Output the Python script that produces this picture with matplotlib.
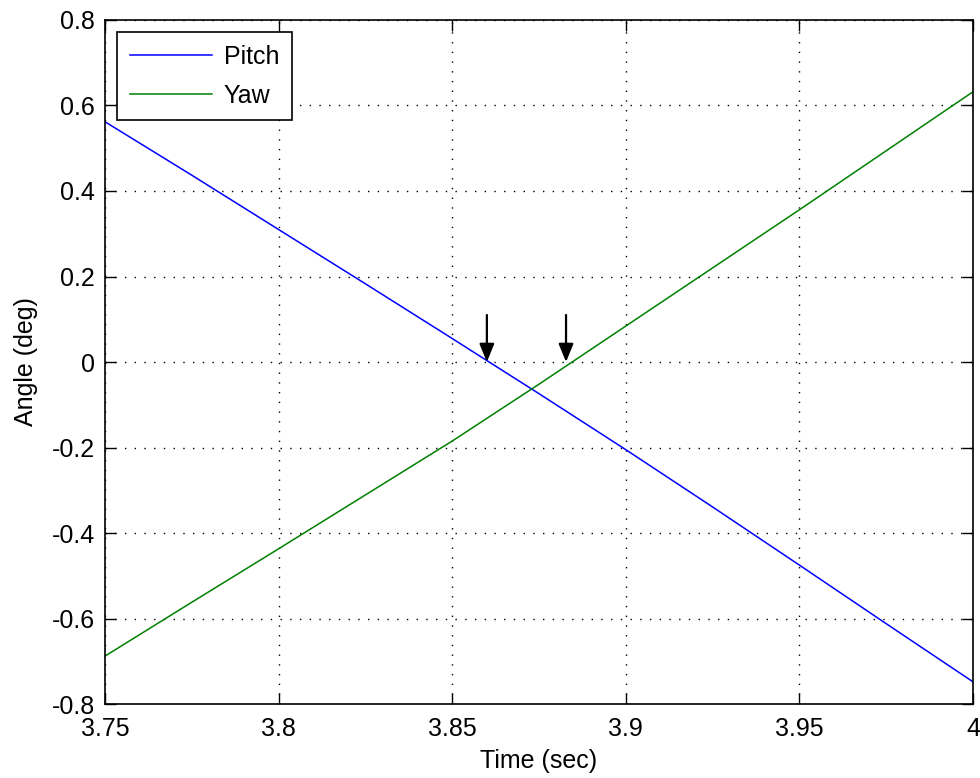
import matplotlib.pyplot as plt
import numpy as np

# sampled attitude angles near the zero crossing
time_s = [3.75, 3.775, 3.80, 3.825, 3.85, 3.875, 3.90, 3.925, 3.95, 3.975, 4.00]
pitch_deg = [0.562, 0.437, 0.310, 0.183, 0.055, -0.074, -0.205, -0.339, -0.475, -0.612, -0.748]
yaw_deg = [-0.688, -0.562, -0.437, -0.311, -0.185, -0.052, 0.084, 0.220, 0.356, 0.494, 0.632]

# zero crossings marked with arrows
crossings = [3.860, 3.8828]

xticks = [3.75, 3.8, 3.85, 3.9, 3.95, 4.0]
xtick_labels = ["3.75", "3.8", "3.85", "3.9", "3.95", "4"]
yticks = [-0.8, -0.6, -0.4, -0.2, 0, 0.2, 0.4, 0.6, 0.8]
ytick_labels = ["-0.8", "-0.6", "-0.4", "-0.2", "0", "0.2", "0.4", "0.6", "0.8"]

plt.rcParams["font.family"] = ["Liberation Sans", "DejaVu Sans"]
FS = 18

fig = plt.figure(figsize=(9.8, 7.78), dpi=100)
ax = fig.add_axes([0.1071, 0.0951, 0.8857, 0.8792])

ax.plot(time_s, pitch_deg, color=(0, 0, 1), lw=1.1, label="Pitch")
ax.plot(time_s, yaw_deg, color=(0, 0.5, 0), lw=1.1, label="Yaw")

for t in crossings:
    ax.annotate("", xy=(t, 0.0), xytext=(t, 0.11),
                arrowprops=dict(arrowstyle="-|>,head_length=1.1,head_width=0.45",
                                color="black", lw=1.6, shrinkA=0, shrinkB=0))

ax.set_xlim(3.75, 4.0)
ax.set_ylim(-0.8, 0.8)
ax.set_xticks(xticks)
ax.set_xticklabels(xtick_labels)
ax.set_yticks(yticks)
ax.set_yticklabels(ytick_labels)
ax.tick_params(direction="in", length=8, width=1, top=True, right=True,
               labelsize=FS)
ax.tick_params(axis="y", pad=7)
ax.tick_params(axis="x", pad=9)
ax.grid(True, color="black", linestyle=(0, (1, 6)), linewidth=1.0)
for spine in ax.spines.values():
    spine.set_linewidth(1.2)

ax.set_xlabel("Time (sec)", fontsize=FS, labelpad=6)
ax.set_ylabel("Angle (deg)", fontsize=FS, labelpad=10)

leg = ax.legend(loc="upper left", fontsize=FS, fancybox=False, framealpha=1,
                edgecolor="black", handlelength=3.3, borderaxespad=0.5,
                borderpad=0.5, labelspacing=0.6, handletextpad=0.45)
leg.get_frame().set_linewidth(1.2)

fig.savefig("out.png", dpi=100)
